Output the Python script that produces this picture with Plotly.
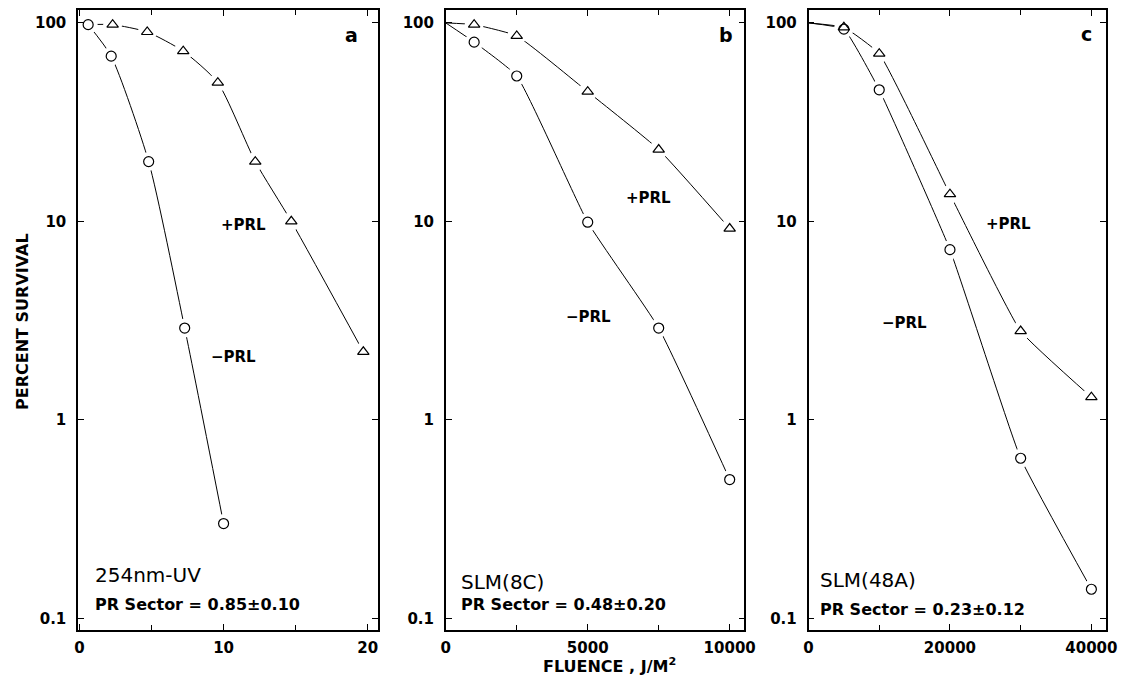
import plotly.graph_objects as go

# ---------------- data ----------------
# Panel a: 254nm-UV, fluence in J/m^2
a_minus_x = [0.6, 2.2, 4.8, 7.3, 10.0]
a_minus_y = [98, 68, 20, 2.9, 0.30]
a_plus_x = [2.3, 4.7, 7.2, 9.6, 12.2, 14.7, 19.7]
a_plus_y = [98, 90, 72, 50, 20, 10, 2.2]

# Panel b: SLM(8C)
b_minus_x = [1000, 2500, 5000, 7500, 10000]
b_minus_y = [80, 54, 9.9, 2.9, 0.50]
b_plus_x = [1000, 2500, 5000, 7500, 10000]
b_plus_y = [98, 86, 45, 23, 9.2]

# Panel c: SLM(48A)
c_minus_x = [5000, 10000, 20000, 30000, 40000]
c_minus_y = [93, 46, 7.2, 0.64, 0.14]
c_plus_x = [5000, 10000, 20000, 30000, 40000]
c_plus_y = [95, 70, 13.7, 2.8, 1.3]

# unirradiated control (curves in b and c start here)
control_x = 0
control_y = 100

panel_letters = ["a", "b", "c"]
agents = ["254nm-UV", "SLM(8C)", "SLM(48A)"]
sectors = ["PR Sector = 0.85\u00b10.10", "PR Sector = 0.48\u00b10.20", "PR Sector = 0.23\u00b10.12"]

y_tickvals = [0.1, 1, 10, 100]
y_ticktext = ["0.1", "1", "10", "100"]
a_xticks = [0, 10, 20]
a_xlabels = ["0", "10", "20"]
b_xticks = [0, 5000, 10000]
b_xlabels = ["0", "5000", "10000"]
c_xticks = [0, 20000, 40000]
c_xlabels = ["0", "20000", "40000"]
a_minor_step = 5
b_minor_step = 2500
c_minor_step = 10000

# ---------------- layout helpers ----------------
# the page body has an 8px margin on every side; size the figure so the page is exactly the window
OFF = 8
W, H = 1141 - 2 * OFF, 690 - 2 * OFF
def px(x):
    return (x - OFF) / W
def py(y):
    return 1 - (y - OFF) / H

FONT = "DejaVu Sans"
fig = go.Figure()

panels = [
    dict(mx=a_minus_x, my=a_minus_y, tx=a_plus_x, ty=a_plus_y,
         lmx=a_minus_x, lmy=a_minus_y,
         ltx=[a_minus_x[0]] + a_plus_x, lty=[a_minus_y[0]] + a_plus_y,
         xa="x", ya="y", sm=0.6),
    dict(mx=b_minus_x, my=b_minus_y, tx=b_plus_x, ty=b_plus_y,
         lmx=[control_x] + b_minus_x, lmy=[control_y] + b_minus_y,
         ltx=[control_x] + b_plus_x, lty=[control_y] + b_plus_y,
         xa="x2", ya="y2", sm=0.4),
    dict(mx=c_minus_x, my=c_minus_y, tx=c_plus_x, ty=c_plus_y,
         lmx=[control_x] + c_minus_x, lmy=[control_y] + c_minus_y,
         ltx=[control_x] + c_plus_x, lty=[control_y] + c_plus_y,
         xa="x3", ya="y3", sm=0.35),
]

for p in panels:
    for lx, ly in ((p["lmx"], p["lmy"]), (p["ltx"], p["lty"])):
        fig.add_trace(go.Scatter(x=lx, y=ly, mode="lines", xaxis=p["xa"], yaxis=p["ya"],
                                 line=dict(color="black", width=1, shape="spline", smoothing=p["sm"]),
                                 showlegend=False, hoverinfo="skip"))
for p in panels:
    # white halos to produce the gaps around the symbols
    fig.add_trace(go.Scatter(x=p["mx"] + p["tx"], y=p["my"] + p["ty"], mode="markers",
                             xaxis=p["xa"], yaxis=p["ya"],
                             marker=dict(symbol="circle", size=19, color="white",
                                         line=dict(width=0, color="white")),
                             showlegend=False, hoverinfo="skip"))
for p in panels:
    fig.add_trace(go.Scatter(x=p["mx"], y=p["my"], mode="markers", xaxis=p["xa"], yaxis=p["ya"],
                             name="-PRL",
                             marker=dict(symbol="circle-open", size=10, color="black", line=dict(width=1.2)),
                             showlegend=False))
    fig.add_trace(go.Scatter(x=p["tx"], y=p["ty"], mode="markers", xaxis=p["xa"], yaxis=p["ya"],
                             name="+PRL",
                             marker=dict(symbol="triangle-up-open", size=10, color="black", line=dict(width=1.2)),
                             showlegend=False))

tickfont = dict(family=FONT, size=15, color="black", weight="bold")
def xaxis(dom, rng, tv, tt, step, anchor):
    return dict(domain=dom, range=rng, tickvals=tv, ticktext=tt, anchor=anchor,
                showline=True, linecolor="black", linewidth=1.5, mirror="allticks",
                ticks="inside", ticklen=6, tickcolor="black", showgrid=False, zeroline=False,
                tickfont=tickfont, ticklabelstandoff=3,
                minor=dict(tick0=0, dtick=step, ticks="inside", ticklen=5, tickcolor="black",
                           showgrid=False))
def yaxis(dom, anchor):
    return dict(domain=dom, type="log", range=[-1.06, 2.065], tickvals=y_tickvals, ticktext=y_ticktext,
                anchor=anchor, showline=True, linecolor="black", linewidth=1.5, mirror="allticks",
                ticks="inside", ticklen=6, tickcolor="black", showgrid=False, zeroline=False,
                tickfont=tickfont, ticklabelstandoff=7)

ydom = [py(630), py(8)]
fig.update_layout(
    width=W, height=H, margin=dict(l=0, r=0, t=0, b=0),
    paper_bgcolor="white", plot_bgcolor="white",
    xaxis=xaxis([px(74), px(378)], [-0.1, 20.7], a_xticks, a_xlabels, a_minor_step, "y"),
    xaxis2=xaxis([px(447), px(750)], [0, 10520], b_xticks, b_xlabels, b_minor_step, "y2"),
    xaxis3=xaxis([px(815), px(1117)], [0, 42100], c_xticks, c_xlabels, c_minor_step, "y3"),
    yaxis=yaxis(ydom, "x"),
    yaxis2=yaxis(ydom, "x2"),
    yaxis3=yaxis(ydom, "x3"),
)

def ann(x, y, text, size, bold=True, xanchor="center", angle=0):
    fig.add_annotation(x=px(x), y=py(y), xref="paper", yref="paper", text=text, showarrow=False,
                       xanchor=xanchor, yanchor="middle", textangle=angle,
                       font=dict(family=FONT, size=size, color="black", weight="bold" if bold else "normal"))

# panel letters
for (x, y), t in zip([(351, 33), (731, 33), (1097, 32)], panel_letters):
    ann(x, y, t, 19)
# +PRL / -PRL labels
for (x, y) in [(242, 224), (653, 197), (1018, 223)]:
    ann(x, y, "+PRL", 15)
for (x, y) in [(232, 356), (592, 316), (912, 322)]:
    ann(x, y, "\u2212PRL", 15)
# agent names and PR sectors
for (x, y), t in zip([(89, 575), (460, 582), (825, 580)], agents):
    ann(x, y, t, 20, bold=False, xanchor="left")
for (x, y), t in zip([(89, 604), (460, 604), (825, 609)], sectors):
    ann(x, y, t, 16, xanchor="left")

# axis titles
ann(17, 320, "PERCENT SURVIVAL", 16, angle=-90)
ann(613, 665, "FLUENCE , J/M<sup>2</sup>", 16)

fig.write_html("out.html")
